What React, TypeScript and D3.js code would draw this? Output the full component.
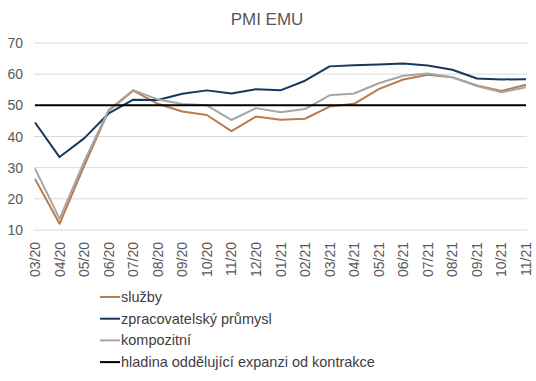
import React from "react";
import * as d3 from "d3";

const months = ["03/20","04/20","05/20","06/20","07/20","08/20","09/20","10/20","11/20","12/20","01/21","02/21","03/21","04/21","05/21","06/21","07/21","08/21","09/21","10/21","11/21"];
const sluzby = [26.4,12.0,30.5,48.3,54.7,50.5,48.0,46.9,41.7,46.4,45.4,45.7,49.6,50.5,55.2,58.3,59.8,59.0,56.4,54.6,56.6];
const prumysl = [44.5,33.4,39.4,47.4,51.8,51.7,53.7,54.8,53.8,55.2,54.8,57.9,62.5,62.9,63.1,63.4,62.8,61.4,58.6,58.3,58.4];
const kompozitni = [29.7,13.6,31.9,48.5,54.9,51.9,50.4,50.0,45.3,49.1,47.8,48.8,53.2,53.8,57.1,59.5,60.2,59.0,56.2,54.2,55.8];
const hladina = months.map(() => 50);
const yTicks = [10,20,30,40,50,60,70];

const seriesNames = ["služby","zpracovatelský průmysl","kompozitní","hladina oddělující expanzi od kontrakce"];
const colors = ["#B97C50","#17375E","#A6A6A6","#000000"];

export default function App() {
  const W = 536, H = 381;
  const x = d3.scalePoint<string>().domain(months).range([35, 526]);
  const y = d3.scaleLinear().domain([10, 70]).range([230, 43]);
  const line = d3.line<number>().x((_, i) => x(months[i])!).y(d => y(d));
  const font = "'Liberation Sans', Arial, sans-serif";
  const data = [sluzby, prumysl, kompozitni];
  return (
    <svg width={W} height={H} style={{ position: "absolute", left: 0, top: 0, background: "#fff" }} fontFamily={font}>
      <text x={267} y={25} textAnchor="middle" fontSize={17} fill="#595959">PMI EMU</text>
      {yTicks.map(t => (
        <g key={t}>
          <line x1={34} x2={527} y1={y(t)} y2={y(t)} stroke="#D9D9D9" strokeWidth={1} />
          <text x={23} y={y(t) + 5} textAnchor="end" fontSize={14} fill="#595959">{t}</text>
        </g>
      ))}
      {months.map(m => (
        <text key={m} transform={`translate(${x(m)! + 5},242) rotate(-90)`} textAnchor="end" fontSize={14} fill="#595959">{m}</text>
      ))}
      {data.map((d, i) => (
        <path key={i} d={line(d)!} fill="none" stroke={colors[i]} strokeWidth={2} strokeLinejoin="round" />
      ))}
      <path d={line(hladina)!} fill="none" stroke="#000" strokeWidth={2} />
      {seriesNames.map((n, i) => (
        <g key={n} transform={`translate(0,${297 + i * 21.7})`}>
          <line x1={100} x2={120} y1={0} y2={0} stroke={colors[i]} strokeWidth={2} />
          <text x={121} y={5} fontSize={14.5} fill="#404040">{n}</text>
        </g>
      ))}
    </svg>
  );
}
